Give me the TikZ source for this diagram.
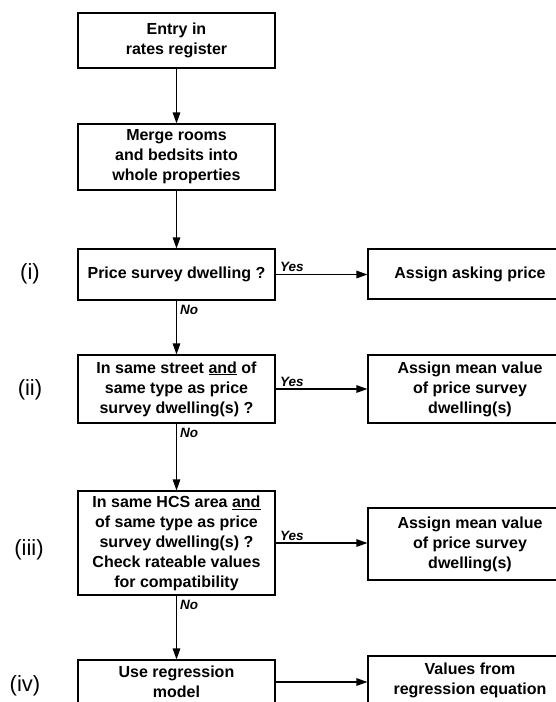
\documentclass[tikz,border=0pt]{standalone}
\usepackage{fontspec}
\setmainfont{Liberation Sans}
\usetikzlibrary{arrows.meta}
\begin{document}
\begin{tikzpicture}[x=1pt,y=-1pt,
  box/.style={draw, line width=1.1pt, inner sep=0pt, align=center,
    font=\fontsize{16}{20}\selectfont\bfseries},
  lbox/.style={box, minimum width=197pt},
  rbox/.style={box, minimum width=204pt},
  arr/.style={line width=1.3pt, -{Triangle[length=11pt,width=7.5pt]}},
  lab/.style={font=\fontsize{13.5}{15}\selectfont\bfseries\itshape, inner sep=1pt},
  roman/.style={font=\fontsize{22}{24}\selectfont, inner sep=0pt}]
\useasboundingbox (0,0) rectangle (556,702);
\clip (0,0) rectangle (556,702);
% left column
\node[lbox, minimum height=55pt] (b1) at (176.5,40.5) {Entry in\\rates register};
\node[lbox, minimum height=66pt] (b2) at (176.5,157) {Merge rooms\\and bedsits into\\whole properties};
\node[lbox, minimum height=51pt] (bi) at (176.5,274.5) {Price survey dwelling ?};
\node[lbox, minimum height=68pt] (bii) at (176.5,389) {In same street \underline{and} of\\same type as price\\survey dwelling(s) ?};
\node[lbox, minimum height=104pt] (biii) at (176.5,543) {In same HCS area \underline{and}\\of same type as price\\survey dwelling(s) ?\\Check rateable values\\for compatibility};
\node[lbox, minimum height=44pt] (biv) at (176.5,682) {Use regression\\model};
% right column
\node[rbox, minimum height=50pt] (ri) at (470,274) {Assign asking price};
\node[rbox, minimum height=68pt] (rii) at (470,389) {Assign mean value\\of price survey\\dwelling(s)};
\node[rbox, minimum height=72pt] (riii) at (470,544) {Assign mean value\\of price survey\\dwelling(s)};
\node[rbox, minimum height=48pt] (riv) at (470,680) {Values from\\regression equation};
% roman labels
\node[roman] (li) at (30,274) {(i)};
\node[roman] (lii) at (30,390) {(ii)};
\node[roman] (liii) at (29,550) {(iii)};
\node[roman] (liv) at (25,686) {(iv)};
% vertical connectors
\draw[arr] (b1.south) -- (b2.north);
\draw[arr] (b2.south) -- (bi.north);
\draw[arr] (bi.south) -- (bii.north) node[lab, pos=0, below right, xshift=2pt, yshift=-3pt] {No};
\draw[arr] (bii.south) -- (biii.north) node[lab, pos=0, below right, xshift=2pt, yshift=-3pt] {No};
\draw[arr] (biii.south) -- (biv.north) node[lab, pos=0, below right, xshift=2pt, yshift=-3pt] {No};
% horizontal connectors
\draw[arr] (bi.east) -- (bi.east -| ri.west) node[lab, pos=0, above right, xshift=3pt, yshift=1pt] {Yes};
\draw[arr] (bii.east) -- (bii.east -| rii.west) node[lab, pos=0, above right, xshift=3pt, yshift=1pt] {Yes};
\draw[arr] (biii.east) -- (biii.east -| riii.west) node[lab, pos=0, above right, xshift=3pt, yshift=1pt] {Yes};
\draw[arr] (biv.east) -- (biv.east -| riv.west);
\end{tikzpicture}
\end{document}
